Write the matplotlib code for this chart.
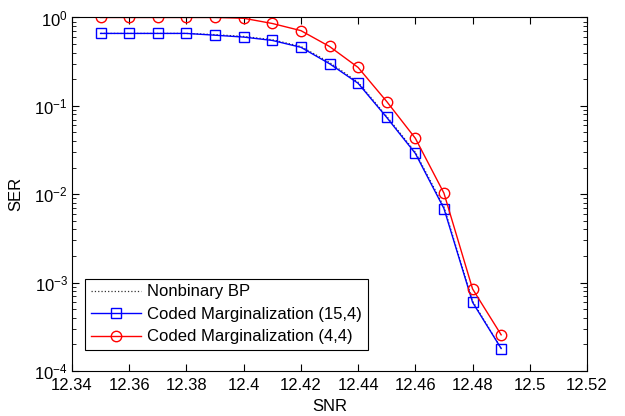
import matplotlib
matplotlib.use('Agg')
import matplotlib.pyplot as plt
import numpy as np

plt.rcParams['font.family'] = ['Liberation Sans', 'DejaVu Sans']

snr = [12.35, 12.36, 12.37, 12.38, 12.39, 12.40, 12.41, 12.42,
       12.43, 12.44, 12.45, 12.46, 12.47, 12.48, 12.49]
ser_bp = [0.66, 0.66, 0.66, 0.66, 0.64, 0.61, 0.56, 0.47,
          0.31, 0.185, 0.076, 0.030, 0.0072, 0.00062, 0.00018]
ser_cm15 = [0.66, 0.66, 0.66, 0.66, 0.63, 0.60, 0.55, 0.46,
            0.30, 0.18, 0.074, 0.029, 0.0069, 0.0006, 0.00018]
ser_cm4 = [1.0, 1.0, 1.0, 1.0, 1.0, 0.98, 0.855, 0.71,
           0.47, 0.272, 0.112, 0.043, 0.0103, 0.00085, 0.000257]
xtick_labels = ['12.34', '12.36', '12.38', '12.4', '12.42', '12.44',
                '12.46', '12.48', '12.5', '12.52']

fig = plt.figure(figsize=(6.25, 4.16), dpi=100)
ax = fig.add_axes([0.1152, 0.108, 0.824, 0.85])

ax.semilogy(snr, ser_bp, color='#333333', linestyle=':', linewidth=0.9, label='Nonbinary BP')
ax.semilogy(snr, ser_cm15, color='b', marker='s', markersize=7.5, markerfacecolor='none',
            markeredgecolor='b', linewidth=1.0, label='Coded Marginalization (15,4)')
ax.semilogy(snr, ser_cm4, color='r', marker='o', markersize=7.5, markerfacecolor='none',
            markeredgecolor='r', linewidth=1.0, label='Coded Marginalization (4,4)')

ax.set_xlim(12.34, 12.52)
ax.set_ylim(1e-4, 1)
ax.set_xticks(np.arange(12.34, 12.5201, 0.02))
ax.set_xticklabels(xtick_labels)
ax.tick_params(which='both', direction='in', top=True, right=True, labelsize=12)
ax.tick_params(axis='x', pad=5)
ax.tick_params(axis='y', pad=3)
ax.tick_params(which='major', length=5)
ax.tick_params(which='minor', length=3)
ax.set_xlabel('SNR', fontsize=12, labelpad=4)
ax.set_ylabel('SER', fontsize=12, labelpad=8)

leg = ax.legend(loc='lower left', bbox_to_anchor=(0.025, 0.059), fontsize=12,
                fancybox=False, edgecolor='k', framealpha=1, handlelength=3.0,
                handletextpad=0.4, borderpad=0.35, labelspacing=0.45,
                borderaxespad=0)
leg.get_frame().set_linewidth(0.8)

fig.savefig('out.png', dpi=100)
